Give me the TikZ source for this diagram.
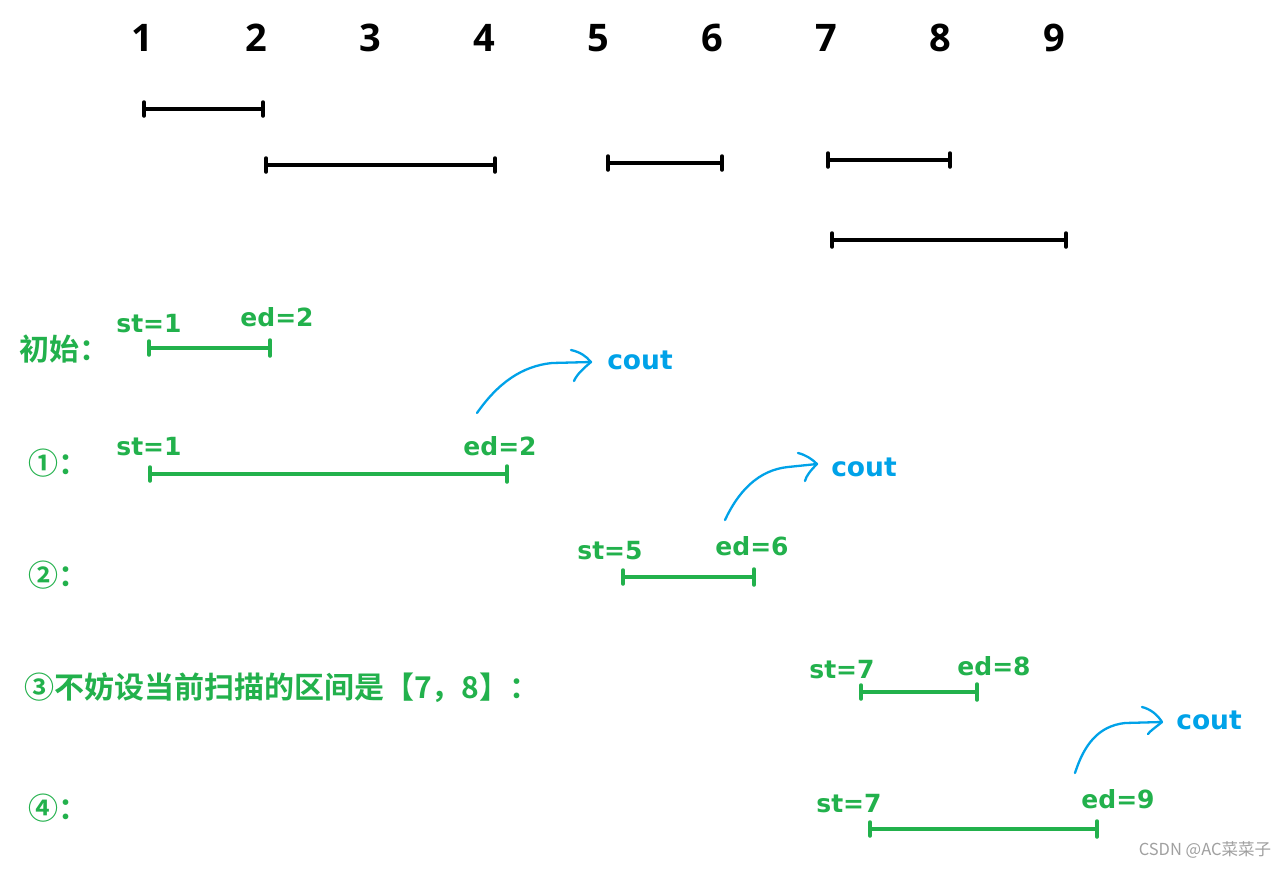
\documentclass[tikz,border=0pt]{standalone}
\usepackage{fontspec}
\setmainfont{Open Sans}
\newfontfamily\lblfont{DejaVu Sans}
\newfontfamily\cjk{Noto Sans CJK SC}[BoldFont={* Bold}]
\definecolor{pgreen}{HTML}{22B14C}
\definecolor{pblue}{HTML}{00A2E8}
\definecolor{wgray}{HTML}{A0A0A0}
\tikzset{
  num/.style={font=\fontsize{38}{40}\selectfont\bfseries, text=black, inner sep=0pt},
  lbl/.style={font=\lblfont\fontsize{25}{27}\selectfont\bfseries, text=pgreen, inner sep=0pt, anchor=base},
  cn/.style={font=\cjk\fontsize{30}{32}\selectfont\bfseries, text=pgreen, inner sep=0pt},
  coutlbl/.style={font=\lblfont\fontsize{26.5}{28}\selectfont\bfseries, text=pblue, inner sep=0pt, anchor=base},
  bseg/.style={line width=3.5pt, draw=black, line cap=round},
  gseg/.style={line width=3.5pt, draw=pgreen, line cap=round},
  arr/.style={line width=2.3pt, draw=pblue, line cap=round, line join=round},
}
\begin{document}
\begin{tikzpicture}[x=1pt,y=-1pt]
\useasboundingbox[fill=white] (0,0) rectangle (1288,868);

% top numbers
\foreach \i/\x in {1/142,2/256,3/370,4/484,5/598,6/712,7/826,8/940,9/1054}
  \node[num] (n\i) at (\x,38) {\i};

% black intervals
\foreach \a/\b/\y in {144/263/109, 266/495/165, 608/722/163, 828/950/160, 832/1066/240}{
  \draw[bseg] (\a,\y) -- (\b,\y);
  \draw[bseg] (\a,\y-7) -- (\a,\y+7);
  \draw[bseg] (\b,\y-7) -- (\b,\y+7);
}

% green intervals
\foreach \a/\b/\y in {149/270/348, 150/507/474, 623/754/577, 861/977/692, 870/1097/829}{
  \draw[gseg] (\a,\y) -- (\b,\y);
  \draw[gseg] (\a,\y-7) -- (\a,\y+7);
  \draw[gseg] (\b,\y-8) -- (\b,\y+8);
}

% row labels
\node[cn, anchor=west] (r0) at (19,349) {初始：};
\node[cn, anchor=west] (r1) at (28,463) {①：};
\node[cn, anchor=west] (r2) at (28,575) {②：};
\node[cn, anchor=west] (r3) at (24,688) {③不妨设当前扫描的区间是【7，8】：};
\node[cn, anchor=west] (r4) at (28,808) {④：};

% st / ed labels
\node[lbl] (s0) at (149,332) {st=1};
\node[lbl] (e0) at (277,326) {ed=2};
\node[lbl] (s1) at (149,455) {st=1};
\node[lbl] (e1) at (500,455) {ed=2};
\node[lbl] (s2) at (610,559) {st=5};
\node[lbl] (e2) at (752,555) {ed=6};
\node[lbl] (s3) at (842,678) {st=7};
\node[lbl] (e3) at (994,675) {ed=8};
\node[lbl] (s4) at (849,812) {st=7};
\node[lbl] (e4) at (1118,808) {ed=9};

% cout labels
\node[coutlbl] (c1) at (640,369) {cout};
\node[coutlbl] (c2) at (864,476) {cout};
\node[coutlbl] (c3) at (1209,729) {cout};

% cout arrows
\coordinate (a1s) at (477,413);
\coordinate (a1t) at (591,362);
\draw[arr] (a1s) .. controls (498,383) and (522,366) .. (552,363) -- (a1t);
\draw[arr] (571,350) .. controls (580,352) and (586,356) .. (a1t) .. controls (584,368) and (577,374) .. (574,381);

\coordinate (a2s) at (725,520);
\coordinate (a2t) at (817,464);
\draw[arr] (a2s) .. controls (738,492) and (758,470) .. (788,467) -- (a2t);
\draw[arr] (798,453) .. controls (806,455) and (812,459) .. (a2t) .. controls (811,470) and (806,476) .. (805,481);

\coordinate (a3s) at (1075,773);
\coordinate (a3t) at (1162,722);
\draw[arr] (a3s) .. controls (1084,745) and (1098,726) .. (1125,723) -- (a3t);
\draw[arr] (1142,707) .. controls (1150,709) and (1157,714) .. (a3t) .. controls (1156,727) and (1150,731) .. (1148,734);

% watermark
\node[font=\cjk\fontsize{16.5}{18}\selectfont, text=wgray, inner sep=0pt] (wm) at (1205,850) {CSDN @AC菜菜子};
\end{tikzpicture}
\end{document}
